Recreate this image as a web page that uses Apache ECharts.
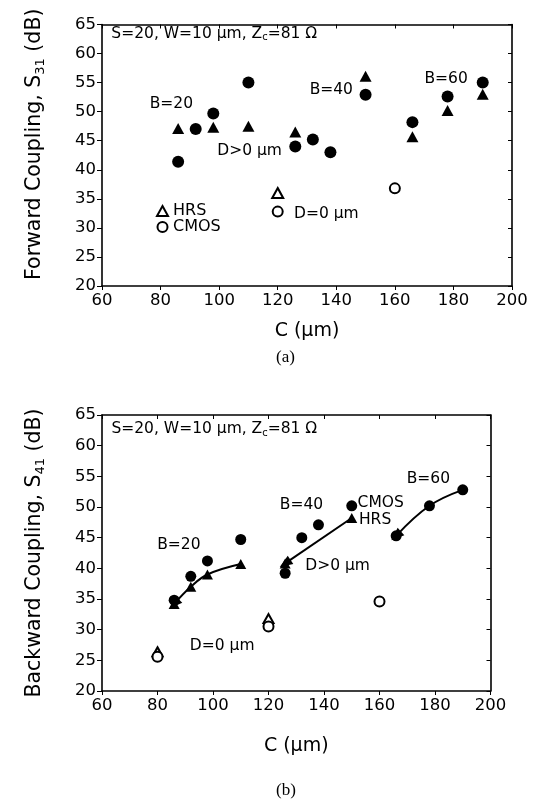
<!DOCTYPE html>
<html>
<head>
<meta charset="utf-8">
<script src="https://cdn.jsdelivr.net/npm/echarts@6/dist/echarts.min.js"></script>
<style>
  * { margin: 0; padding: 0; }
  body { background: #fff; }
  #main { width: 536px; height: 811px; }
</style>
</head>
<body>
<div id="main"></div>
<script>
// axis ticks
var cTicks = [60, 200, 20];      // min, max, step (um)
var sTicks = [20, 65, 5];        // min, max, step (dB)

// (a) forward coupling S31
var fwdHrsC  = [86, 98, 110, 126, 150, 166, 178, 190];
var fwdHrs   = [47.1, 47.3, 47.5, 46.5, 56.1, 45.7, 50.2, 53.0];
var fwdCmosC = [86, 92, 98, 110, 126, 132, 138, 150, 166, 178, 190];
var fwdCmos  = [41.4, 47.0, 49.7, 55.0, 44.0, 45.2, 43.0, 52.9, 48.2, 52.6, 55.0];
var fwdHrs0C  = [120];
var fwdHrs0   = [36.0];
var fwdCmos0C = [120, 160];
var fwdCmos0  = [32.8, 36.8];

// (b) backward coupling S41
var bwdB20C = [86, 92, 98, 110];
var bwdB20  = [34.2, 37.0, 39.0, 40.7];
var bwdB40C = [126, 150];
var bwdB40  = [40.8, 48.2];
var bwdB60C = [166, 178, 190];
var bwdB60  = [45.3, 50.2, 52.8];
var bwdCmosC = [86, 92, 98, 110, 126, 132, 138, 150, 166, 178, 190];
var bwdCmos  = [34.8, 38.7, 41.2, 44.7, 39.2, 45.0, 47.1, 50.2, 45.3, 50.2, 52.8];
var bwdHrs0C  = [80, 120];
var bwdHrs0   = [26.4, 31.8];
var bwdCmos0C = [80, 120, 160];
var bwdCmos0  = [25.6, 30.5, 34.6];

// text notes, placed in data units
var notesA = [
  ['S=20, W=10 μm, Z{sub|c}=81 Ω', 63.2, 63.4, 'left'],
  ['B=20', 83.7, 51.4, 'center'],
  ['D>0 μm', 110.4, 43.2, 'center'],
  ['B=40', 138.3, 53.8, 'center'],
  ['B=60', 177.5, 55.7, 'center'],
  ['D=0 μm', 136.6, 32.4, 'center']
];
var notesB = [
  ['S=20, W=10 μm, Z{sub|c}=81 Ω', 63.4, 62.7, 'left'],
  ['B=20', 87.7, 43.8, 'center'],
  ['B=40', 131.9, 50.3, 'center'],
  ['CMOS', 152.1, 50.6, 'left'],
  ['HRS', 152.6, 47.9, 'left'],
  ['B=60', 177.6, 54.6, 'center'],
  ['D>0 μm', 144.9, 40.4, 'center'],
  ['D=0 μm', 103.3, 27.3, 'center']
];

var FONT = 'DejaVu Sans';
var subStyle = { fontFamily: FONT, fontSize: 10, lineHeight: 10, verticalAlign: 'top', padding: [8, 0, 0, 0], color: '#000' };

function pairs(xs, ys) {
  return xs.map(function (x, i) { return [x, ys[i]]; });
}

function xAxes(gi) {
  return [
    { gridIndex: gi, type: 'value', min: cTicks[0], max: cTicks[1], interval: cTicks[2],
      name: 'C (μm)', nameLocation: 'middle', nameGap: gi === 0 ? 36 : 46,
      nameTextStyle: { fontFamily: FONT, fontSize: 19, color: '#000' },
      axisLine: { onZero: false, lineStyle: { color: '#000', width: 1.6 } },
      axisTick: { show: true, length: 4, lineStyle: { color: '#000' } },
      axisLabel: { fontFamily: FONT, fontSize: 16.5, color: '#000', margin: 6 },
      splitLine: { show: false } },
    { gridIndex: gi, type: 'value', position: 'top', min: cTicks[0], max: cTicks[1], interval: cTicks[2],
      axisLine: { onZero: false, lineStyle: { color: '#000', width: 1.6 } },
      axisTick: { show: true, inside: true, length: 4, lineStyle: { color: '#000' } },
      axisLabel: { show: false }, splitLine: { show: false } }
  ];
}

function yAxes(gi, name, pad) {
  return [
    { gridIndex: gi, type: 'value', min: sTicks[0], max: sTicks[1], interval: sTicks[2],
      name: name, nameLocation: 'middle', nameGap: 57,
      nameTextStyle: { fontFamily: FONT, fontSize: 20.5, color: '#000', padding: pad,
        rich: { sub: { fontFamily: FONT, fontSize: 13, lineHeight: 13, verticalAlign: 'top', padding: [10, 0, 0, 0], color: '#000' } } },
      axisLine: { onZero: false, lineStyle: { color: '#000', width: 1.6 } },
      axisTick: { show: true, length: 5, lineStyle: { color: '#000' } },
      axisLabel: { fontFamily: FONT, fontSize: 16.5, color: '#000', margin: 6 },
      splitLine: { show: false } },
    { gridIndex: gi, type: 'value', position: 'right', min: sTicks[0], max: sTicks[1], interval: sTicks[2],
      axisLine: { onZero: false, lineStyle: { color: '#000', width: 1.6 } },
      axisTick: { show: true, inside: true, length: 4, lineStyle: { color: '#000' } },
      axisLabel: { show: false }, splitLine: { show: false } }
  ];
}

function dots(name, xi, xs, ys, symbol, size, open) {
  return {
    name: name, type: 'scatter', xAxisIndex: xi, yAxisIndex: xi, z: 5,
    symbol: symbol, symbolSize: size,
    itemStyle: open ? { color: '#fff', borderColor: '#000', borderWidth: 2, opacity: 1 }
                    : { color: '#000', opacity: 1 },
    data: pairs(xs, ys), silent: true
  };
}

function notes(list, xi) {
  return {
    type: 'scatter', xAxisIndex: xi, yAxisIndex: xi, symbolSize: 0, silent: true, z: 6,
    itemStyle: { opacity: 1 },
    data: list.map(function (n) {
      return { value: [n[1], n[2]], label: { formatter: n[0], align: n[3] } };
    }),
    label: { show: true, position: 'inside', color: '#000', opacity: 1, fontFamily: FONT, fontSize: 15.5,
      lineHeight: 18, rich: { sub: subStyle } }
  };
}

function trend(xs, ys, rot) {
  var d = pairs(xs, ys).map(function (p, i) {
    if (i === 0) return { value: p, symbol: 'triangle', symbolSize: [10, 13], symbolRotate: rot };
    return { value: p };
  });
  return {
    type: 'line', xAxisIndex: 2, yAxisIndex: 2, z: 3, silent: true,
    smooth: 0.4, symbol: 'none',
    lineStyle: { color: '#000', width: 2 },
    itemStyle: { color: '#000', opacity: 1 },
    data: d
  };
}

var chart = echarts.init(document.getElementById('main'));
chart.setOption({
  animation: false,
  backgroundColor: '#fff',
  grid: [
    { left: 102, top: 24.5, width: 410, height: 261.5 },
    { left: 102, top: 415, width: 388.5, height: 276 }
  ],
  xAxis: xAxes(0).concat(xAxes(1)),
  yAxis: yAxes(0, 'Forward Coupling, S{sub|31} (dB)', [0, 0, 0, 22])
    .concat(yAxes(1, 'Backward Coupling, S{sub|41} (dB)', [0, 0, 0, 0])),
  legend: {
    left: 151, top: 198, orient: 'vertical', selectedMode: false,
    itemWidth: 11, itemHeight: 10, itemGap: 0,
    textStyle: { fontFamily: FONT, fontSize: 16, color: '#000', lineHeight: 16 },
    data: [{ name: 'HRS', icon: 'triangle' }, { name: 'CMOS', icon: 'circle' }]
  },
  graphic: [
    { type: 'text', left: 276, top: 349, style: { text: '(a)', font: '17px "Liberation Serif"', fill: '#000' } },
    { type: 'text', left: 276, top: 782, style: { text: '(b)', font: '17px "Liberation Serif"', fill: '#000' } }
  ],
  series: [
    dots('HRS D>0', 0, fwdHrsC, fwdHrs, 'triangle', [12, 11], false),
    dots('CMOS D>0', 0, fwdCmosC, fwdCmos, 'circle', 12, false),
    dots('HRS', 0, fwdHrs0C, fwdHrs0, 'triangle', [11, 10], true),
    dots('CMOS', 0, fwdCmos0C, fwdCmos0, 'circle', 10, true),
    notes(notesA, 0),

    trend(bwdB20C, bwdB20, 135),
    trend(bwdB40C, bwdB40, 124),
    trend(bwdB60C, bwdB60, 132),
    dots('b HRS B20', 2, bwdB20C, bwdB20, 'triangle', [11, 10], false),
    dots('b HRS B40', 2, bwdB40C, bwdB40, 'triangle', [11, 10], false),
    dots('b CMOS', 2, bwdCmosC, bwdCmos, 'circle', 11, false),
    dots('b HRS D=0', 2, bwdHrs0C, bwdHrs0, 'triangle', [10, 9], true),
    dots('b CMOS D=0', 2, bwdCmos0C, bwdCmos0, 'circle', 10, true),
    notes(notesB, 2)
  ]
});
</script>
</body>
</html>
